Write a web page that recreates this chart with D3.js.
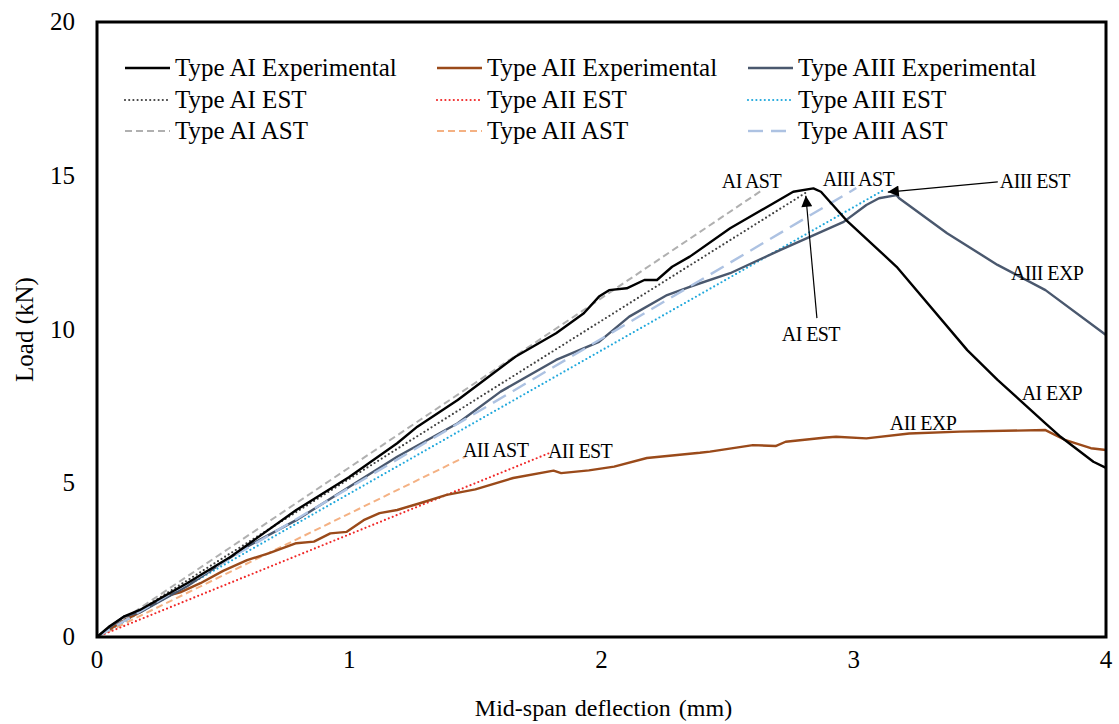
<!DOCTYPE html>
<html>
<head>
<meta charset="utf-8">
<script src="https://cdn.jsdelivr.net/npm/d3@7"></script>
<style>
  body { margin: 0; background: #fff; }
</style>
</head>
<body>
<svg id="chart"></svg>
<script>
// mid-span deflection (mm) / load (kN)
const aiExpX = [0, 0.05, 0.106, 0.17, 0.357, 0.53, 0.79, 1.0, 1.19, 1.27, 1.43, 1.66, 1.82, 1.93, 1.99, 2.03, 2.10, 2.17, 2.22, 2.28, 2.35, 2.51, 2.68, 2.76, 2.84, 2.87, 2.97, 3.17, 3.45, 3.57, 3.76, 3.82, 3.95, 4.0];
const aiExpY = [0, 0.35, 0.66, 0.88, 1.75, 2.61, 4.13, 5.2, 6.30, 6.84, 7.71, 9.12, 9.88, 10.53, 11.07, 11.28, 11.34, 11.61, 11.61, 12.04, 12.37, 13.29, 14.1, 14.48, 14.59, 14.48, 13.56, 12.04, 9.33, 8.36, 6.95, 6.51, 5.7, 5.5];

const aiiExpX = [0, 0.1, 0.18, 0.264, 0.33, 0.41, 0.5, 0.595, 0.68, 0.79, 0.86, 0.925, 0.99, 1.057, 1.12, 1.19, 1.28, 1.386, 1.5, 1.65, 1.81, 1.84, 1.95, 2.05, 2.18, 2.23, 2.39, 2.43, 2.60, 2.69, 2.73, 2.89, 2.93, 3.05, 3.22, 3.42, 3.76, 3.84, 3.94, 4.0];
const aiiExpY = [0, 0.5, 0.85, 1.31, 1.45, 1.75, 2.15, 2.50, 2.72, 3.05, 3.1, 3.37, 3.42, 3.80, 4.03, 4.13, 4.35, 4.62, 4.8, 5.17, 5.41, 5.33, 5.42, 5.54, 5.82, 5.86, 5.99, 6.03, 6.24, 6.21, 6.35, 6.49, 6.51, 6.46, 6.62, 6.68, 6.73, 6.4, 6.14, 6.08];

const aiiiExpX = [0, 0.106, 0.17, 0.357, 0.595, 0.79, 1.19, 1.43, 1.60, 1.82, 1.99, 2.11, 2.26, 2.35, 2.51, 2.71, 2.96, 3.05, 3.10, 3.17, 3.18, 3.37, 3.57, 3.76, 4.0];
const aiiiExpY = [0, 0.66, 0.8, 1.65, 2.94, 3.80, 5.86, 6.95, 7.98, 9.01, 9.60, 10.42, 11.12, 11.39, 11.83, 12.59, 13.5, 14.05, 14.27, 14.37, 14.27, 13.13, 12.1, 11.28, 9.82];

// analytical / estimated lines: [start, end]
const aiAstX = [0, 2.64],  aiAstY = [0, 14.55];
const aiEstX = [0, 2.82],  aiEstY = [0, 14.5];
const aiiAstX = [0, 1.46], aiiAstY = [0, 5.86];
const aiiEstX = [0, 1.79], aiiEstY = [0, 5.97];
const aiiiAstX = [0, 3.01], aiiiAstY = [0, 14.6];
const aiiiEstX = [0, 3.12], aiiiEstY = [0, 14.54];

const xTicks = [0, 1, 2, 3, 4];
const yTicks = [0, 5, 10, 15, 20];

const legendNames = ["Type AI Experimental", "Type AII Experimental", "Type AIII Experimental",
                     "Type AI EST", "Type AII EST", "Type AIII EST",
                     "Type AI AST", "Type AII AST", "Type AIII AST"];

// labels on the plot, in data units (x mm, y kN at baseline)
const noteText = ["AI AST", "AIII AST", "AIII EST", "AI EST", "AIII EXP", "AI EXP", "AII EXP", "AII AST", "AII EST"];
const noteX = [2.477, 2.877, 3.579, 2.715, 3.623, 3.666, 3.143, 1.451, 1.788];
const noteY = [14.6, 14.67, 14.6, 9.63, 11.61, 7.71, 6.73, 5.85, 5.82];

// arrows: from -> to, data units
const arrowFrom = [[2.854, 10.37], [3.571, 14.8]];
const arrowTo = [[2.81, 14.35], [3.135, 14.47]];

const W = 1119, H = 724;
const margin = { top: 22, right: 13, bottom: 87, left: 97 };
const iw = W - margin.left - margin.right, ih = H - margin.top - margin.bottom;
const serif = "'Liberation Serif', 'Times New Roman', 'DejaVu Serif', serif";

const svg = d3.select("#chart").attr("width", W).attr("height", H)
  .attr("font-family", serif);
const g = svg.append("g").attr("transform", `translate(${margin.left},${margin.top})`);

const x = d3.scaleLinear().domain([0, 4]).range([0, iw]);
const y = d3.scaleLinear().domain([0, 20]).range([ih, 0]);

svg.append("defs").append("marker")
  .attr("id", "arrow")
  .attr("viewBox", "0 0 10 10")
  .attr("refX", 10).attr("refY", 5)
  .attr("markerWidth", 17).attr("markerHeight", 11)
  .attr("markerUnits", "userSpaceOnUse")
  .attr("orient", "auto")
  .append("path").attr("d", "M0,0L10,5L0,10Z").attr("fill", "#000");

const series = [
  { xs: aiAstX, ys: aiAstY, color: "#b0b0b0", width: 2, dash: "7,4", cap: "butt" },
  { xs: aiiAstX, ys: aiiAstY, color: "#f4b183", width: 2, dash: "7,4", cap: "butt" },
  { xs: aiEstX, ys: aiEstY, color: "#404040", width: 2.2, dash: "0,4.2", cap: "round" },
  { xs: aiiEstX, ys: aiiEstY, color: "#f02828", width: 2.2, dash: "0,4.2", cap: "round" },
  { xs: aiiiEstX, ys: aiiiEstY, color: "#20a8dc", width: 2.2, dash: "0,4.2", cap: "round" },
  { xs: aiiExpX, ys: aiiExpY, color: "#9a4a1a", width: 2.4, dash: null, cap: "butt" },
  { xs: aiiiExpX, ys: aiiiExpY, color: "#4a586e", width: 2.4, dash: null, cap: "butt" },
  { xs: aiiiAstX, ys: aiiiAstY, color: "#adc2e2", width: 2.4, dash: "15,8", cap: "butt" },
  { xs: aiExpX, ys: aiExpY, color: "#000000", width: 2.4, dash: null, cap: "butt" }
];

const line = d3.line().x(d => x(d[0])).y(d => y(d[1]));

series.forEach(s => {
  g.append("path")
    .datum(s.xs.map((v, i) => [v, s.ys[i]]))
    .attr("d", line)
    .attr("fill", "none")
    .attr("stroke", s.color)
    .attr("stroke-width", s.width)
    .attr("stroke-dasharray", s.dash)
    .attr("stroke-linecap", s.cap)
    .attr("stroke-linejoin", "round");
});

// frame
g.append("rect")
  .attr("width", iw).attr("height", ih)
  .attr("fill", "none").attr("stroke", "#000").attr("stroke-width", 3);

// tick labels
g.selectAll(".xt").data(xTicks).enter().append("text")
  .attr("x", d => x(d)).attr("y", ih + 31)
  .attr("text-anchor", "middle").style("font-size", "25px").text(d => d);
g.selectAll(".yt").data(yTicks).enter().append("text")
  .attr("x", -22).attr("y", d => y(d) + 8)
  .attr("text-anchor", "end").style("font-size", "25px").text(d => d);

// axis titles
svg.append("text")
  .attr("x", margin.left + iw / 2 + 2).attr("y", 716)
  .attr("text-anchor", "middle").style("font-size", "24px").style("word-spacing", "2px")
  .text("Mid-span deflection (mm)");
svg.append("text")
  .attr("transform", `translate(33,${margin.top + ih / 2}) rotate(-90)`)
  .attr("text-anchor", "middle").style("font-size", "25px")
  .text("Load (kN)");

// legend
const legendOrder = [8, 5, 6, 2, 3, 4, 0, 1, 7];
const colX = [28, 340, 651], rowY = [46, 78, 109];
legendNames.forEach((name, i) => {
  const s = series[legendOrder[i]];
  const lx = colX[i % 3], ly = rowY[Math.floor(i / 3)];
  g.append("line")
    .attr("x1", lx).attr("x2", lx + 45).attr("y1", ly).attr("y2", ly)
    .attr("stroke", s.color).attr("stroke-width", s.width)
    .attr("stroke-dasharray", s.dash).attr("stroke-linecap", s.cap);
  g.append("text")
    .attr("x", lx + 50).attr("y", ly + 8)
    .style("font-size", "25px").text(name);
});

// arrows
arrowFrom.forEach((f, i) => {
  g.append("line")
    .attr("x1", x(f[0])).attr("y1", y(f[1]))
    .attr("x2", x(arrowTo[i][0])).attr("y2", y(arrowTo[i][1]))
    .attr("stroke", "#000").attr("stroke-width", 1.2)
    .attr("marker-end", "url(#arrow)");
});

// annotations
noteText.forEach((t, i) => {
  g.append("text")
    .attr("x", x(noteX[i])).attr("y", y(noteY[i]))
    .style("font-size", "20px").style("letter-spacing", "-0.6px")
    .text(t);
});
</script>
</body>
</html>
